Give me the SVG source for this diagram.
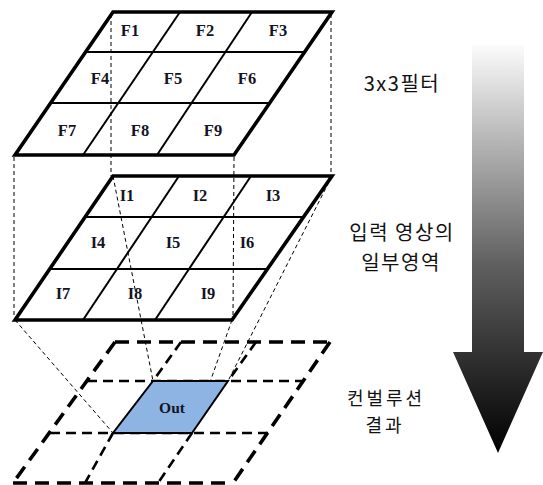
<svg xmlns="http://www.w3.org/2000/svg" width="543" height="485" viewBox="0 0 543 485">
<defs>
<linearGradient id="arrowGrad" gradientUnits="userSpaceOnUse" x1="0" y1="40" x2="0" y2="453">
<stop offset="0" stop-color="#ffffff"/>
<stop offset="0.25" stop-color="#b4b4b4"/>
<stop offset="0.55" stop-color="#5e5e5e"/>
<stop offset="1" stop-color="#000000"/>
</linearGradient>
<style>
.outer{fill:none;stroke:#000;stroke-width:3.6;stroke-linejoin:miter}
.inner{fill:none;stroke:#000;stroke-width:2}
.proj{fill:none;stroke:#000;stroke-width:1;stroke-dasharray:4 3}
.dthick{fill:none;stroke:#000;stroke-width:3.6;stroke-dasharray:14 8}
.dthin{fill:none;stroke:#000;stroke-width:2.6;stroke-dasharray:10 6}
.lbl{font-family:"Liberation Serif","DejaVu Serif",serif;font-weight:bold;font-size:16.5px;fill:#141424;text-anchor:middle}
.kr{font-family:"Noto Sans CJK KR","Noto Sans",sans-serif;font-size:20px;fill:#111;text-anchor:middle;letter-spacing:1.5px}
.kr2{font-family:"Noto Sans CJK KR","Noto Sans",sans-serif;font-size:18px;fill:#111;text-anchor:middle;letter-spacing:3px}
</style>
</defs>
<rect width="543" height="485" fill="#fff"/>

<g id="arrow">
<path d="M472,45 L524,45 L524,352 L543,352 L498,453 L453,352 L472,352 Z" fill="url(#arrowGrad)"/>
</g>

<g id="connectors">
<line class="proj" x1="14" y1="157" x2="14" y2="318"/>
<line class="proj" x1="111" y1="14" x2="111" y2="176"/>
<line class="proj" x1="234" y1="157" x2="233" y2="318"/>
<line class="proj" x1="331" y1="14" x2="331" y2="176"/>
<line class="proj" x1="15" y1="320" x2="113" y2="433"/>
<line class="proj" x1="113" y1="176" x2="153" y2="381"/>
<line class="proj" x1="332" y1="176" x2="228" y2="381"/>
<line class="proj" x1="232" y1="320" x2="192" y2="433"/>
</g>

<g id="filter">
<line class="inner" x1="86" y1="52" x2="305" y2="52"/>
<line class="inner" x1="51" y1="103" x2="270" y2="103"/>
<line class="inner" x1="180" y1="12" x2="83" y2="155"/>
<line class="inner" x1="252" y1="12" x2="157" y2="155"/>
<polygon class="outer" points="113,12 332,12 234,155 15,155"/>
<text class="lbl" x="130" y="36">F1</text>
<text class="lbl" x="205" y="36">F2</text>
<text class="lbl" x="278" y="36">F3</text>
<text class="lbl" x="100" y="84">F4</text>
<text class="lbl" x="173" y="84">F5</text>
<text class="lbl" x="247" y="84">F6</text>
<text class="lbl" x="67" y="136">F7</text>
<text class="lbl" x="140" y="136">F8</text>
<text class="lbl" x="213" y="136">F9</text>
</g>

<g id="input">
<line class="inner" x1="86" y1="217" x2="304" y2="217"/>
<line class="inner" x1="51" y1="269" x2="268" y2="269"/>
<line class="inner" x1="179" y1="176" x2="83" y2="320"/>
<line class="inner" x1="251" y1="176" x2="155" y2="320"/>
<polygon class="outer" points="113,176 332,176 232,320 15,320"/>
<text class="lbl" x="127" y="201">I1</text>
<text class="lbl" x="200" y="201">I2</text>
<text class="lbl" x="273" y="201">I3</text>
<text class="lbl" x="98" y="248">I4</text>
<text class="lbl" x="173" y="248">I5</text>
<text class="lbl" x="247" y="248">I6</text>
<text class="lbl" x="63" y="299">I7</text>
<text class="lbl" x="135" y="299">I8</text>
<text class="lbl" x="208" y="299">I9</text>
</g>

<g id="output">
<line class="dthin" x1="87" y1="381" x2="303" y2="381"/>
<line class="dthin" x1="50" y1="433" x2="268" y2="433"/>
<line class="dthin" x1="181" y1="342" x2="153" y2="381"/>
<line class="dthin" x1="113" y1="433" x2="85" y2="483"/>
<line class="dthin" x1="256" y1="342" x2="228" y2="381"/>
<line class="dthin" x1="192" y1="433" x2="158" y2="483"/>
<line class="dthick" x1="115" y1="342" x2="330" y2="342"/>
<line class="dthick" x1="13" y1="483" x2="233" y2="483"/>
<line class="dthick" x1="115" y1="342" x2="13" y2="483"/>
<line class="dthick" x1="330" y1="342" x2="233" y2="483"/>
</g>

<g id="out">
<polygon points="153,381 228,381 192,433 113,433" fill="#8db4e2" stroke="#000" stroke-width="2"/>
<text class="lbl" x="172" y="413" style="font-size:15.5px">Out</text>
</g>

<g id="labels">
<text class="kr" x="402" y="91">3x3필터</text>
<text class="kr" x="402" y="240">입력 영상의</text>
<text class="kr" x="401" y="270">일부영역</text>
<text class="kr2" x="386" y="405">컨벌루션</text>
<text class="kr2" x="385" y="432">결과</text>
</g>
</svg>
